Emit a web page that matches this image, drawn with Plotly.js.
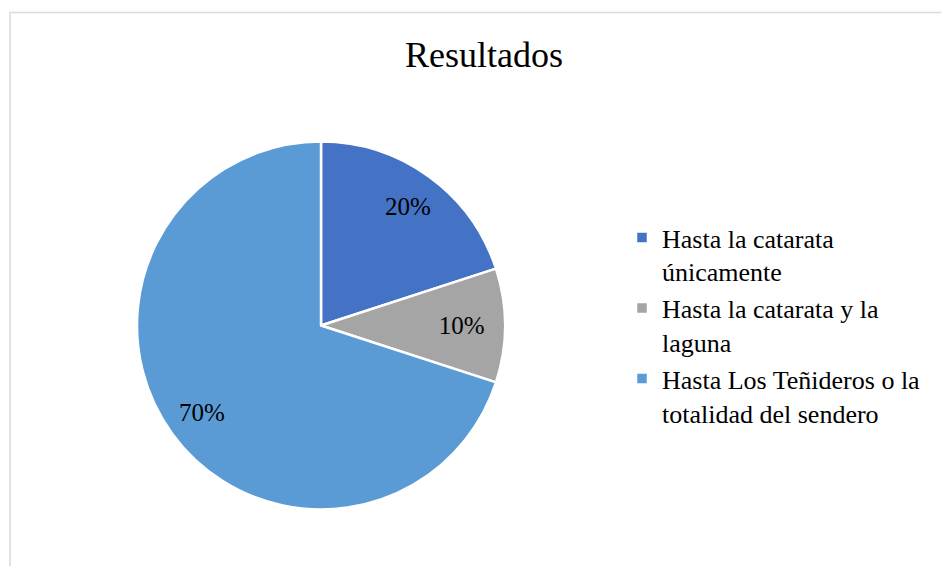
<!DOCTYPE html>
<html>
<head>
<meta charset="utf-8">
<script src="https://cdn.plot.ly/plotly-3.0.1.min.js"></script>
<style>
  html, body { margin: 0; padding: 0; background: #ffffff; }
  #chart { width: 941px; height: 566px; }
</style>
</head>
<body>
<div id="chart"></div>
<script>
const categories = [
  "Hasta la catarata<br>únicamente",
  "Hasta la catarata y la<br>laguna",
  "Hasta Los Teñideros o la<br>totalidad del sendero"
];
const values = [20, 10, 70];
const colors = ["#4472c4", "#a5a5a5", "#5b9bd5"];
const titleText = "Resultados";

const W = 941, H = 566;
const cx = 321, cy = 325.5, r = 184;
const domain = {
  x: [(cx - r) / W, (cx + r) / W],
  y: [1 - (cy + r) / H, 1 - (cy - r) / H]
};

const total = values.reduce((a, b) => a + b, 0);
const pctText = values.map(v => Math.round(v / total * 100) + "%");

// The narrow slice keeps the library's inside label; the wide slices get
// labels placed at their mid-angle, further out, as in the original.
const insideIdx = values.map(v => v / total < 0.15);

const trace = {
  type: "pie",
  labels: categories,
  values: values,
  sort: false,
  direction: "clockwise",
  rotation: 0,
  marker: { colors: colors, line: { color: "#ffffff", width: 2.5 } },
  text: pctText,
  texttemplate: "%{text}",
  textposition: insideIdx.map(b => b ? "inside" : "none"),
  insidetextorientation: "horizontal",
  textfont: { family: "Liberation Serif", size: 25, color: "#000000" },
  hoverinfo: "label+percent",
  domain: domain
};

// labels of the wide slices, at 0.8 of the radius along each slice's mid-angle
const annotations = [];
let acc = 0;
values.forEach((v, i) => {
  const mid = (acc + v / 2) / total * 2 * Math.PI;
  acc += v;
  if (insideIdx[i]) return;
  const px = cx + 0.8 * r * Math.sin(mid);
  const py = cy - 0.8 * r * Math.cos(mid);
  annotations.push({
    xref: "paper", yref: "paper",
    x: px / W, y: 1 - py / H,
    xanchor: "center", yanchor: "middle",
    text: pctText[i],
    showarrow: false,
    font: { family: "Liberation Serif", size: 25, color: "#000000" }
  });
});

const layout = {
  width: W,
  height: H,
  margin: { l: 0, r: 0, t: 0, b: 0 },
  paper_bgcolor: "#ffffff",
  font: { family: "Liberation Serif", color: "#000000" },
  title: {
    text: titleText,
    font: { family: "Liberation Serif", size: 36, color: "#000000" },
    xref: "paper", yref: "paper",
    x: 484 / W, xanchor: "center",
    y: 1 - 54 / H, yanchor: "middle"
  },
  annotations: annotations,
  showlegend: true,
  legend: {
    x: 622 / W, xanchor: "left",
    y: 1 - 214 / H, yanchor: "top",
    valign: "top",
    font: { family: "Liberation Serif", size: 26, color: "#000000" },
    itemwidth: 30,
    tracegroupgap: 0,
    bgcolor: "rgba(0,0,0,0)"
  },
  shapes: [{
    type: "rect", xref: "paper", yref: "paper",
    x0: 10 / W, x1: 1.2, y0: -0.2, y1: 1 - 12.5 / H,
    line: { color: "#d9d9d9", width: 1.5 },
    fillcolor: "rgba(0,0,0,0)",
    layer: "below"
  }]
};

Plotly.newPlot("chart", [trace], layout, { displayModeBar: false, responsive: false });
</script>
</body>
</html>
